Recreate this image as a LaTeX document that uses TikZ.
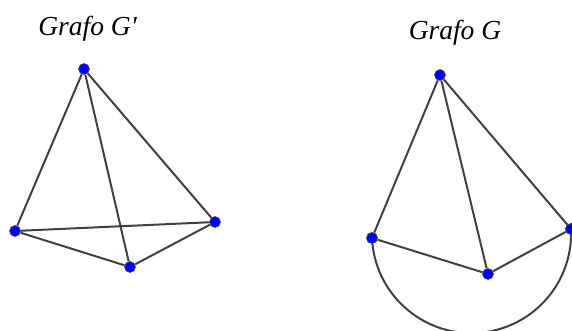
\documentclass[tikz,border=0pt]{standalone}
\usepackage{fontspec}
\setmainfont{Liberation Serif}[Ligatures=TeXOff]
\begin{document}
\begin{tikzpicture}[x=1pt,y=-1pt,
  vtx/.style={circle,fill=blue,draw=black!70,line width=0.6pt,inner sep=0pt,minimum size=11pt},
  edge/.style={draw=black!75,line width=2pt},
  lbl/.style={font=\itshape\fontsize{27.5}{27.5}\selectfont,text=black}]
\useasboundingbox (0,0) rectangle (572,331);
\node[lbl] (t1) at (87.5,29) {Grafo G'};
\node[lbl] (t2) at (455,33) {Grafo G};
% G'
\node[vtx] (a) at (84,69) {};
\node[vtx] (b) at (15,231) {};
\node[vtx] (c) at (215,222) {};
\node[vtx] (d) at (130,267) {};
\draw[edge] (a) -- (b) (a) -- (c) (a) -- (d) (b) -- (c) (b) -- (d) (d) -- (c);
% G
\node[vtx] (e) at (440,75) {};
\node[vtx] (f) at (372,238) {};
\node[vtx] (g) at (488,274) {};
\node[vtx] (h) at (571,229) {};
\draw[edge] (e) -- (f) (e) -- (g) (e) -- (h) (f) -- (g) (g) -- (h);
\draw[edge] (f.center) arc[start angle=177.4, end angle=-2.6, radius=99.6];
\node[vtx] at (f) {};
\node[vtx] at (h) {};
\end{tikzpicture}
\end{document}
